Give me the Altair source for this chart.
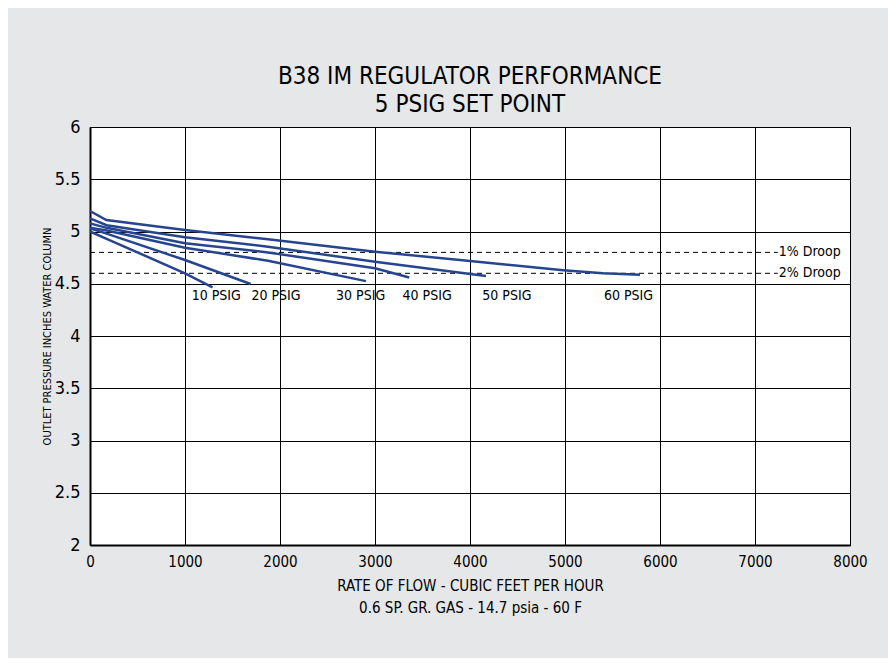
import altair as alt
import pandas as pd

FONT = "Liberation Sans Narrow, Arial Narrow, DejaVu Sans Condensed, sans-serif"
LINE_COLOR = "#27458f"

# Curves: flow (CFH) and outlet pressure (in. w.c.)
series_names = ["10 PSIG", "20 PSIG", "30 PSIG", "40 PSIG", "50 PSIG", "60 PSIG"]
flow_10 = [0, 175, 1000, 1290]
pres_10 = [5.00, 4.93, 4.60, 4.466]
flow_20 = [0, 175, 1000, 1691]
pres_20 = [5.03, 4.98, 4.727, 4.498]
flow_30 = [0, 175, 1000, 1874, 2905]
pres_30 = [5.037, 5.01, 4.845, 4.72, 4.525]
flow_40 = [0, 175, 1000, 1874, 3000, 3360]
pres_40 = [5.078, 5.035, 4.887, 4.80, 4.648, 4.56]
flow_50 = [0, 175, 1000, 1874, 3000, 4168]
pres_50 = [5.126, 5.06, 4.944, 4.855, 4.71, 4.574]
flow_60 = [0, 172, 1000, 1874, 3000, 3895, 4982, 5400, 5790]
pres_60 = [5.196, 5.11, 5.014, 4.925, 4.807, 4.727, 4.63, 4.60, 4.585]

# Curve labels (placed under the 4.5 line)
label_x = [1070, 1700, 2590, 3290, 4130, 5410]
label_y = [4.38, 4.38, 4.38, 4.38, 4.38, 4.38]

# Droop reference lines
droop_names = ["1% Droop", "2% Droop"]
droop_levels = [4.8, 4.6]
droop_start = [0, 0]
droop_end = [7240, 7240]
droop_text_x = [7250, 7250]

# Axes
x_ticks = [0, 1000, 2000, 3000, 4000, 5000, 6000, 7000, 8000]
y_ticks = [2, 2.5, 3, 3.5, 4, 4.5, 5, 5.5, 6]

flows = [flow_10, flow_20, flow_30, flow_40, flow_50, flow_60]
press = [pres_10, pres_20, pres_30, pres_40, pres_50, pres_60]
rows = []
for name, fl, pr in zip(series_names, flows, press):
    for i, (f, p) in enumerate(zip(fl, pr)):
        rows.append({"series": name, "flow": f, "pressure": p, "order": i})
curves = pd.DataFrame(rows)

labels = pd.DataFrame({"text": series_names, "x": label_x, "y": label_y})
droop = pd.DataFrame({"name": droop_names, "y": droop_levels, "x0": droop_start,
                      "x1": droop_end, "tx": droop_text_x})

xscale = alt.Scale(domain=[0, 8000], nice=False, zero=False)
yscale = alt.Scale(domain=[2, 6], nice=False, zero=False)

xaxis = alt.Axis(values=x_ticks, grid=True, gridColor="black", gridOpacity=1, gridWidth=1,
                 ticks=False, domain=True, domainColor="black", domainWidth=2,
                 labelFont=FONT, labelFontSize=15, labelColor="black", labelPadding=9,
                 labelFlush=False, labelExpr="toString(datum.value)",
                 title=["RATE OF FLOW - CUBIC FEET PER HOUR", "0.6 SP. GR. GAS - 14.7 psia - 60 F"],
                 titleFont=FONT, titleFontSize=15, titleFontWeight="normal", titleColor="black",
                 titleLineHeight=22, titlePadding=9)
yaxis = alt.Axis(values=y_ticks, grid=True, gridColor="black", gridOpacity=1, gridWidth=1,
                 ticks=False, domain=True, domainColor="black", domainWidth=2,
                 labelFont=FONT, labelFontSize=18, labelColor="black", labelPadding=10,
                 labelFlush=False, labelExpr="toString(datum.value)",
                 title="OUTLET PRESSURE INCHES WATER COLUMN",
                 titleFont=FONT, titleFontSize=11, titleFontWeight="normal", titleColor="black",
                 titlePadding=2)

lines = alt.Chart(curves).mark_line(strokeWidth=2.5, color=LINE_COLOR).encode(
    x=alt.X("flow:Q", scale=xscale, axis=xaxis),
    y=alt.Y("pressure:Q", scale=yscale, axis=yaxis),
    detail="series:N",
    order="order:Q",
)

droop_rules = alt.Chart(droop).mark_rule(color="black", strokeWidth=1, strokeDash=[5, 4]).encode(
    x=alt.X("x0:Q", scale=xscale),
    x2="x1:Q",
    y=alt.Y("y:Q", scale=yscale),
)

droop_text = alt.Chart(droop).mark_text(align="left", baseline="middle", font=FONT,
                                        fontSize=14, color="black").encode(
    x=alt.X("tx:Q", scale=xscale),
    y=alt.Y("y:Q", scale=yscale),
    text="name:N",
)

curve_text = alt.Chart(labels).mark_text(align="left", baseline="middle", font=FONT,
                                         fontSize=14, color="black").encode(
    x=alt.X("x:Q", scale=xscale),
    y=alt.Y("y:Q", scale=yscale),
    text="text:N",
)

chart = alt.layer(droop_rules, lines, droop_text, curve_text).properties(
    width=760,
    height=418,
    title=alt.TitleParams(
        text=["B38 IM REGULATOR PERFORMANCE", "5 PSIG SET POINT"],
        font=FONT, fontSize=24, fontWeight="normal", color="black",
        lineHeight=28, anchor="middle", offset=1,
    ),
    autosize=alt.AutoSizeParams(type="none"),
    padding={"left": 82, "top": 119, "right": 38, "bottom": 113},
    background="#e6e7e8",
).configure_view(stroke="black", strokeWidth=1, fill="white")

chart.save("out.html", embed_options={"renderer": "svg", "actions": False})
